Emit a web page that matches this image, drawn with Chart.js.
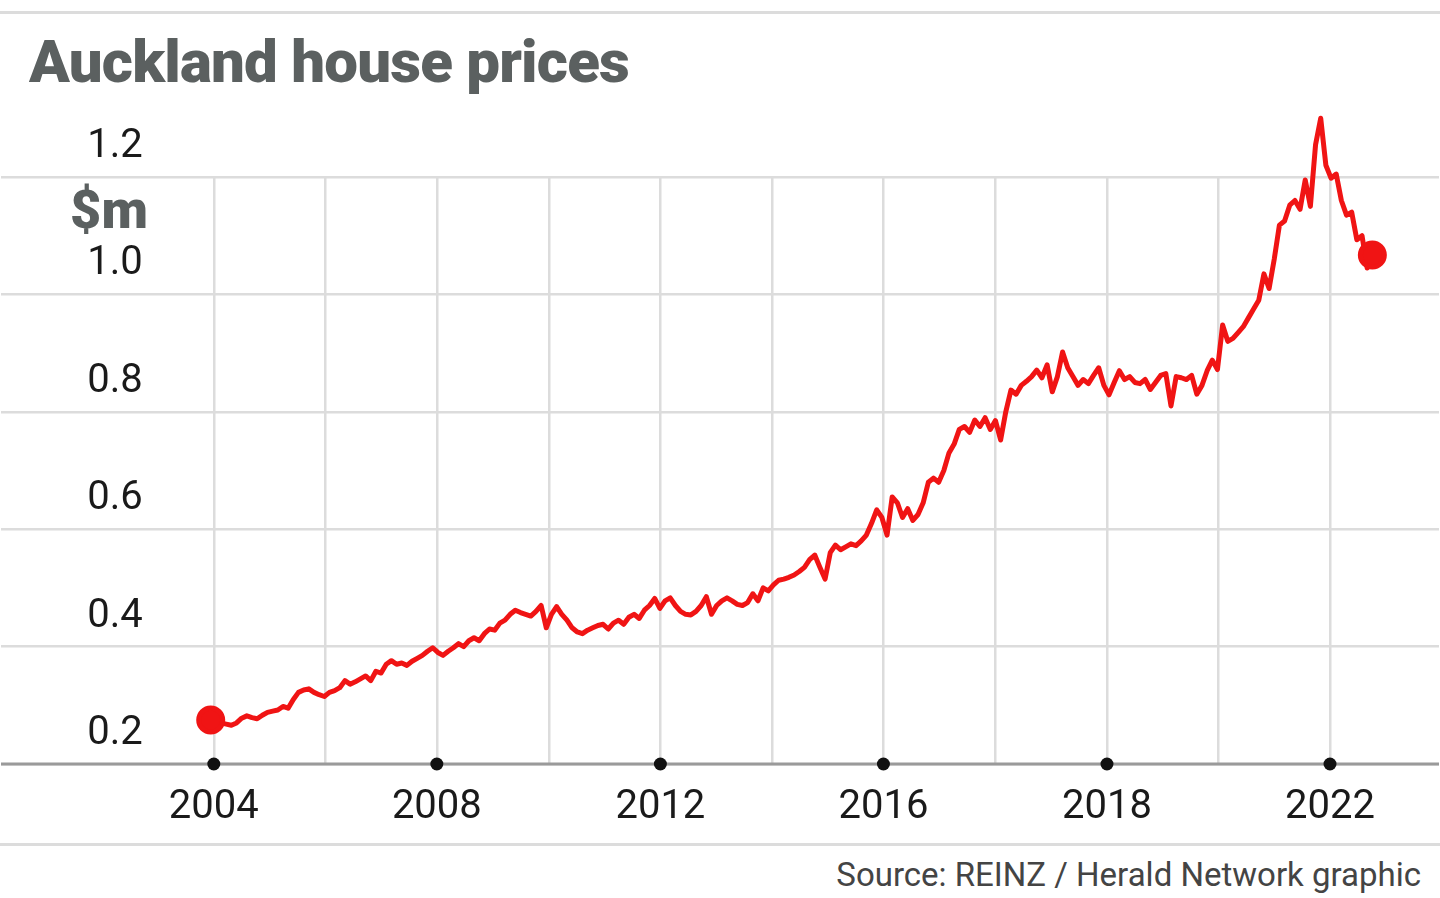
<!DOCTYPE html>
<html>
<head>
<meta charset="utf-8">
<script src="https://cdn.jsdelivr.net/npm/chart.js@4"></script>
<style>
  html, body { margin: 0; padding: 0; background: #fff; }
  body { width: 1440px; height: 898px; position: relative; overflow: hidden; font-family: Roboto, sans-serif; }
  .rule { position: absolute; left: 0; width: 1440px; height: 3px; background: #dcdcdc; }
  #title { position: absolute; left: 29px; top: 26px; font-size: 60px; font-weight: 900; color: #5b6060; letter-spacing: -0.8px; }
  #source { position: absolute; right: 19px; top: 855px; font-size: 33px; color: #444; }
  #wrap { position: absolute; left: -16px; top: 0; width: 1472px; height: 898px; }
</style>
</head>
<body>
<div class="rule" style="top:11px"></div>
<div class="rule" style="top:843px"></div>
<div id="title">Auckland house prices</div>
<div id="source">Source: REINZ / Herald Network graphic</div>
<div id="wrap"><canvas id="chart"></canvas></div>
<script>
// ============================================
// DATA (monthly median, $m, Jan 2004 - Oct 2022)
// ============================================

const prices = [
    // 2004
    0.275, 0.272, 0.270, 0.268, 0.266, 0.270, 0.278, 0.282, 0.279, 0.277, 0.283, 0.288,
    // 2005
    0.290, 0.292, 0.298, 0.295, 0.310, 0.322, 0.326, 0.328, 0.322, 0.318, 0.315, 0.322,
    // 2006
    0.325, 0.330, 0.342, 0.336, 0.340, 0.345, 0.350, 0.342, 0.358, 0.355, 0.370, 0.376,
    // 2007
    0.370, 0.372, 0.368, 0.375, 0.380, 0.385, 0.392, 0.398, 0.390, 0.385, 0.392, 0.398,
    // 2008
    0.405, 0.400, 0.410, 0.415, 0.410, 0.422, 0.430, 0.428, 0.440, 0.445, 0.455, 0.462,
    // 2009
    0.458, 0.455, 0.452, 0.460, 0.470, 0.432, 0.455, 0.468, 0.455, 0.445, 0.432, 0.425,
    // 2010
    0.422, 0.428, 0.432, 0.436, 0.438, 0.430, 0.440, 0.445, 0.438, 0.450, 0.455, 0.448,
    // 2011
    0.462, 0.470, 0.482, 0.465, 0.478, 0.483, 0.470, 0.460, 0.455, 0.454, 0.460, 0.470,
    // 2012
    0.485, 0.455, 0.470, 0.478, 0.483, 0.478, 0.472, 0.470, 0.475, 0.490, 0.478, 0.500,
    // 2013
    0.495, 0.505, 0.513, 0.515, 0.518, 0.522, 0.528, 0.535, 0.548, 0.556, 0.535, 0.515,
    // 2014
    0.560, 0.573, 0.565, 0.570, 0.575, 0.572, 0.580, 0.590, 0.610, 0.633, 0.620, 0.590,
    // 2015
    0.655, 0.645, 0.620, 0.635, 0.615, 0.625, 0.645, 0.680, 0.687, 0.680, 0.700, 0.730,
    // 2016
    0.745, 0.770, 0.775, 0.765, 0.786, 0.775, 0.790, 0.770, 0.785, 0.752, 0.800, 0.837,
    // 2017
    0.830, 0.845, 0.852, 0.860, 0.871, 0.858, 0.880, 0.834, 0.860, 0.902, 0.875, 0.860,
    // 2018
    0.845, 0.855, 0.848, 0.862, 0.875, 0.845, 0.829, 0.850, 0.870, 0.855, 0.860, 0.850,
    // 2019
    0.848, 0.855, 0.838, 0.850, 0.862, 0.865, 0.810, 0.860, 0.858, 0.855, 0.862, 0.830,
    // 2020
    0.845, 0.870, 0.888, 0.872, 0.948, 0.920, 0.925, 0.935, 0.945, 0.960, 0.975, 0.990,
    // 2021
    1.035, 1.010, 1.060, 1.118, 1.125, 1.152, 1.160, 1.145, 1.195, 1.150, 1.255, 1.300,
    // 2022
    1.220, 1.198, 1.205, 1.160, 1.135, 1.140, 1.093, 1.100, 1.045, 1.067
];

// gridline positions (in months from Jan 2004) and their labels
const gridMonths = [0.6, 22.2, 43.8, 65.5, 87.1, 108.7, 130.3, 151.9, 173.6, 195.2, 216.8];
const gridLabels = ['2004', '', '2008', '', '2012', '', '2016', '', '2018', '', '2022'];
const yTicks = [0.2, 0.4, 0.6, 0.8, 1.0, 1.2];

const points = prices.map((v, i) => ({ x: i, y: v }));

// ============================================
// CUSTOM DRAWING: y labels, $m, axis dots
// ============================================

const decorations = {
    id: 'decorations',
    afterDraw(chart) {
        const ctx = chart.ctx;
        const x = chart.scales.x;
        const y = chart.scales.y;
        const left = chart.chartArea.left;
        ctx.save();
        // baseline
        ctx.strokeStyle = '#9a9a9a';
        ctx.lineWidth = 3;
        ctx.beginPath();
        ctx.moveTo(chart.chartArea.left, y.bottom);
        ctx.lineTo(chart.chartArea.right, y.bottom);
        ctx.stroke();
        // y labels sit above their lines
        ctx.fillStyle = '#1a1a1a';
        ctx.font = '40px Roboto';
        ctx.textAlign = 'center';
        ctx.textBaseline = 'middle';
        yTicks.forEach(v => {
            ctx.fillText(v.toFixed(1), left + 114, y.getPixelForValue(v) - 30);
        });
        ctx.fillStyle = '#5b6060';
        ctx.font = '900 54px Roboto';
        ctx.fillText('$m', left + 108, 214);
        // dots under labelled ticks
        ctx.fillStyle = '#111';
        gridMonths.forEach((m, i) => {
            if (!gridLabels[i]) return;
            ctx.beginPath();
            ctx.arc(x.getPixelForValue(m), y.bottom, 6.5, 0, Math.PI * 2);
            ctx.fill();
        });
        ctx.restore();
    }
};

// ============================================
// CHART
// ============================================

const pxPerMonth = 5.17;
const firstPx = 210;

new Chart(document.getElementById('chart'), {
    type: 'line',
    data: {
        datasets: [{
            data: points,
            borderColor: '#f01414',
            backgroundColor: '#f01414',
            borderWidth: 5,
            borderJoinStyle: 'round',
            tension: 0,
            clip: false,
            pointRadius: ctx => (ctx.dataIndex === 0 || ctx.dataIndex === points.length - 1) ? 12 : 0,
            pointHoverRadius: 0
        }]
    },
    options: {
        responsive: true,
        maintainAspectRatio: false,
        animation: false,
        layout: { padding: { top: 177, bottom: 0, left: 0, right: 0 } },
        plugins: { legend: { display: false }, tooltip: { enabled: false } },
        scales: {
            x: {
                type: 'linear',
                min: -firstPx / pxPerMonth,
                max: (1440 - firstPx) / pxPerMonth,
                afterBuildTicks: axis => { axis.ticks = gridMonths.map(v => ({ value: v })); },
                grid: { color: '#dcdcdc', lineWidth: 2.5, drawTicks: false },
                border: { display: false },
                ticks: {
                    autoSkip: false,
                    maxRotation: 0,
                    padding: 20,
                    color: '#1a1a1a',
                    font: { family: 'Roboto', size: 40 },
                    callback: (v, i) => gridLabels[i]
                },
                afterFit: axis => { axis.height = 134; }
            },
            y: {
                min: 0.2,
                max: 1.2,
                afterBuildTicks: axis => { axis.ticks = yTicks.map(v => ({ value: v })); },
                grid: { color: '#dcdcdc', lineWidth: 2.5, drawTicks: false },
                border: { display: false },
                ticks: { display: false },
                afterFit: axis => { axis.width = 0; }
            }
        }
    },
    plugins: [decorations]
});
</script>
</body>
</html>
